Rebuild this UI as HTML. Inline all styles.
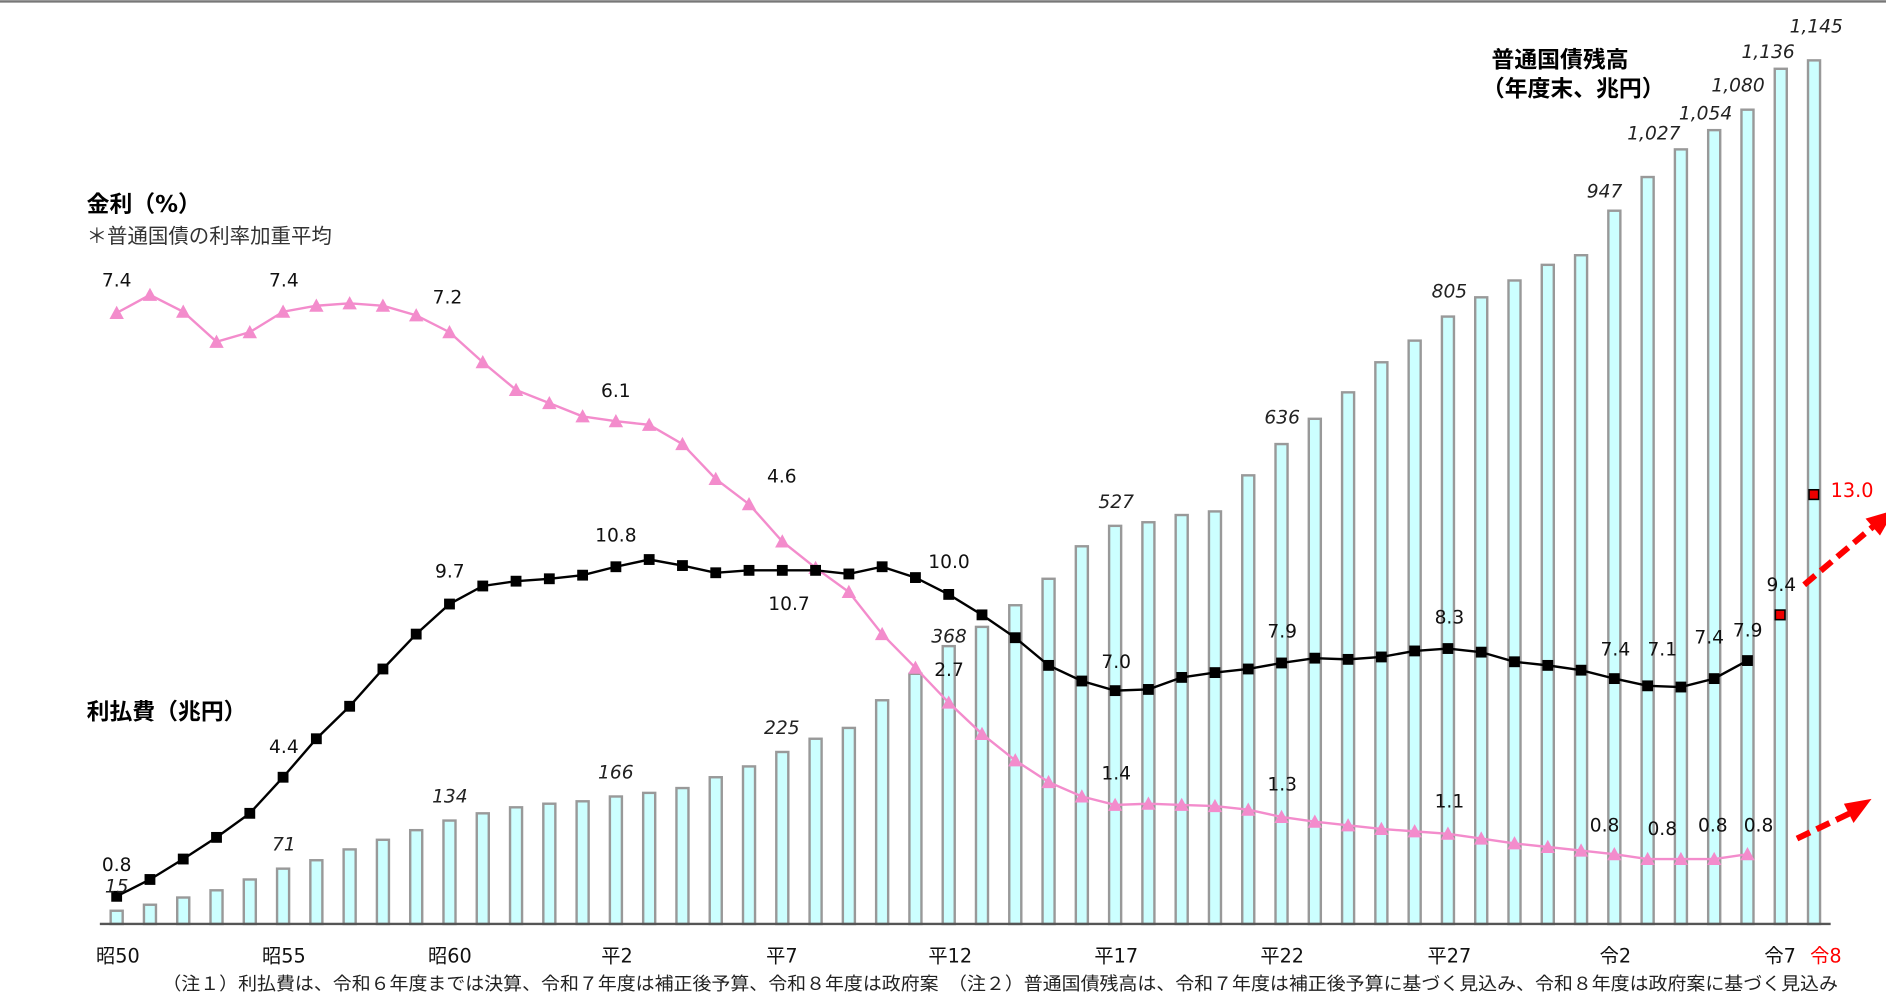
<!DOCTYPE html>
<html><head><meta charset="utf-8"><style>
html,body{margin:0;padding:0;background:#fff;}
svg{display:block;}
text{font-family:"DejaVu Sans","Liberation Sans","Noto Sans CJK JP",sans-serif;}
.jp{font-family:"Liberation Sans","Noto Sans CJK JP",sans-serif;}
.it{font-style:italic;font-size:15.5px;fill:#222;}
.n{font-size:15.5px;fill:#111;}
.tk{font-size:16px;fill:#111;text-anchor:middle;}
</style></head><body>
<svg id="s" width="1886" height="1006" viewBox="0 0 1568 836" xmlns="http://www.w3.org/2000/svg">
<line x1="0" y1="1" x2="1568" y2="1" stroke="#777" stroke-width="2"/>
<g id="bars"></g>
<line x1="83" y1="768" x2="1522" y2="768" stroke="#555" stroke-width="2"/>
<polyline id="pink" fill="none" stroke="#f38ccc" stroke-width="2"/>
<g id="tri"></g>
<polyline id="blk" fill="none" stroke="#000" stroke-width="2"/>
<g id="sq"></g>
<rect x="1476" y="507" width="8" height="8" fill="#e00" stroke="#000" stroke-width="1.3"/>
<rect x="1504" y="407" width="8" height="8" fill="#e00" stroke="#000" stroke-width="1.3"/>
<g stroke="#f00" stroke-width="5" stroke-dasharray="12,6" fill="none">
<line x1="1500" y1="486" x2="1558" y2="437"/>
<line x1="1494" y1="697" x2="1540" y2="675"/>
</g>
<polygon points="1575,424 1551,431 1563,445" fill="#f00"/>
<polygon points="1556,664 1533,668 1541,684" fill="#f00"/>

<g class="jp">
<text x="72" y="176" font-size="19" font-weight="bold">金利（%）</text>
<text x="72" y="202" font-size="17" fill="#333">＊普通国債の利率加重平均</text>
<text x="72" y="598" font-size="19" font-weight="bold">利払費（兆円）</text>
<text x="1240" y="56" font-size="19" font-weight="bold">普通国債残高</text>
<text x="1232" y="80" font-size="19" font-weight="bold">（年度末、兆円）</text>
</g>
<g class="it" text-anchor="middle">
<text x="97" y="742">15</text><text x="236" y="707">71</text><text x="374" y="667">134</text>
<text x="512" y="647">166</text><text x="650" y="610">225</text><text x="789" y="534">368</text>
<text x="928" y="422">527</text><text x="1066" y="352">636</text><text x="1205" y="247">805</text>
<text x="1334" y="164">947</text><text x="1375" y="116">1,027</text><text x="1418" y="99">1,054</text>
<text x="1445" y="76">1,080</text><text x="1470" y="48">1,136</text><text x="1510" y="27">1,145</text>
</g>
<g class="n" text-anchor="middle">
<text x="97" y="238">7.4</text><text x="236" y="238">7.4</text><text x="372" y="252">7.2</text>
<text x="512" y="330">6.1</text><text x="650" y="401">4.6</text><text x="789" y="562">2.7</text>
<text x="928" y="648">1.4</text><text x="1066" y="657">1.3</text><text x="1205" y="671">1.1</text>
<text x="1334" y="691">0.8</text><text x="1382" y="694">0.8</text><text x="1424" y="691">0.8</text><text x="1462" y="691">0.8</text>
<text x="97" y="724">0.8</text><text x="236" y="626">4.4</text><text x="374" y="480">9.7</text>
<text x="512" y="450">10.8</text><text x="656" y="507">10.7</text><text x="789" y="472">10.0</text>
<text x="928" y="555">7.0</text><text x="1066" y="530">7.9</text><text x="1205" y="518">8.3</text>
<text x="1343" y="545">7.4</text><text x="1382" y="545">7.1</text><text x="1421" y="535">7.4</text><text x="1453" y="529">7.9</text>
<text x="1481" y="491">9.4</text>
</g>
<text x="1522" y="413" font-size="16" fill="#f00">13.0</text>
<g class="tk jp">
<text x="98" y="800">昭50</text><text x="236" y="800">昭55</text><text x="374" y="800">昭60</text>
<text x="513" y="800">平2</text><text x="650" y="800">平7</text><text x="790" y="800">平12</text>
<text x="928" y="800">平17</text><text x="1066" y="800">平22</text><text x="1205" y="800">平27</text>
<text x="1343" y="800">令2</text><text x="1480" y="800">令7</text><text x="1518" y="800" fill="#f00">令8</text>
</g>
<text class="jp" x="135" y="823" font-size="15" textLength="1393" lengthAdjust="spacingAndGlyphs" fill="#222">（注１）利払費は、令和６年度までは決算、令和７年度は補正後予算、令和８年度は政府案　（注２）普通国債残高は、令和７年度は補正後予算に基づく見込み、令和８年度は政府案に基づく見込み</text>
</svg>
<script>
var NS="http://www.w3.org/2000/svg";
function X(i){return 97+i*27.67;}
var tops=[757,752,746,740,731,722,715,706,698,690,682,676,671,668,666,662,659,655,646,637,625,614,605,582,560,537,521,503,481,454,437,434,428,425,395,369,348,326,301,283,263,247,233,220,212,175,147,124,108,91,57,50];
var g=document.getElementById('bars');
tops.forEach(function(t,i){var r=document.createElementNS(NS,'rect');r.setAttribute('x',X(i)-5);r.setAttribute('y',t);r.setAttribute('width',10);r.setAttribute('height',768-t);r.setAttribute('fill','#ccffff');r.setAttribute('stroke','#999');r.setAttribute('stroke-width','2');g.appendChild(r);});
var pk=[260,245,259,284,276,259,254,252,254,262,276,301,324,335,346,350,353,369,398,419,450,472,492,527,555,584,610,632,650,662,669,668,669,670,673,679,683,686,689,691,693,697,701,704,707,710,714,714,714,710];
var bk=[745,731,714,696,676,646,614,587,556,527,502,487,483,481,478,471,465,470,476,474,474,474,477,471,480,494,511,530,553,566,574,573,563,559,556,551,547,548,546,541,539,542,550,553,557,564,570,571,564,549];
var pp=[],bp=[],tg=document.getElementById('tri'),sg=document.getElementById('sq');
pk.forEach(function(y,i){var x=X(i);pp.push(x+','+y);var p=document.createElementNS(NS,'polygon');p.setAttribute('points',(x)+','+(y-6)+' '+(x-6)+','+(y+5)+' '+(x+6)+','+(y+5));p.setAttribute('fill','#f38ccc');tg.appendChild(p);});
bk.forEach(function(y,i){var x=X(i);bp.push(x+','+y);var r=document.createElementNS(NS,'rect');r.setAttribute('x',x-4.5);r.setAttribute('y',y-4.5);r.setAttribute('width',9);r.setAttribute('height',9);r.setAttribute('fill','#000');sg.appendChild(r);});
document.getElementById('pink').setAttribute('points',pp.join(' '));
document.getElementById('blk').setAttribute('points',bp.join(' '));
</script>
</body></html>
